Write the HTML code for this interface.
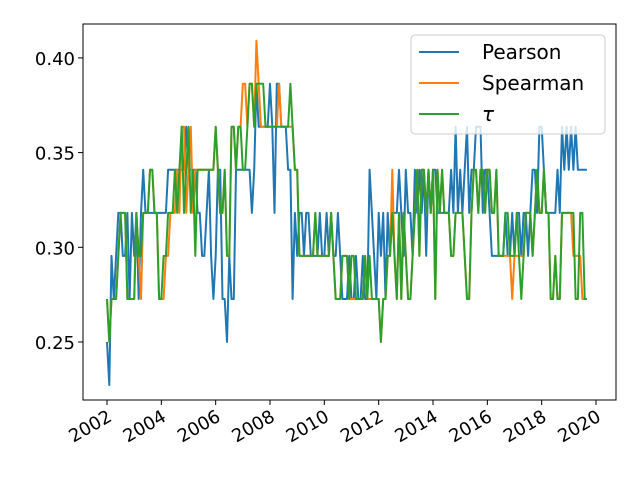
<!DOCTYPE html>
<html><head><meta charset="utf-8"><style>body{margin:0;background:#fff}svg{display:block;font-family:"DejaVu Sans","Liberation Sans",sans-serif}</style></head>
<body>
<svg id="c" width="640" height="480"></svg>
<script>
const startYear = 2002;
const pearson = [11,10,13,12,13,14,14,13,13,14,12,14, 13,14,12,14,15,14,14,14,14,14,14,14, 14,14,14,15,15,15,15,15,15,15,15,16, 15,15,15,15,14,14,13,13,14,15,13,12, 13,15,15,12,12,11,13,12,12,15,15,15, 15,15,15,15,14,15,17,16,16,16,16,16, 17,16,14,17,17,16,16,16,15,15,12,14, 13,14,14,13,14,14,13,13,13,13,14,13, 13,14,13,14,13,13,14,13,12,12,12,13, 12,12,13,12,12,13,12,12,15,14,13,12, 14,13,14,12,14,13,14,14,14,15,14,13, 15,14,14,13,15,14,15,14,15,13,15,14, 15,15,14,14,14,14,14,14,15,14,16,14, 15,14,15,16,14,15,15,16,16,16,14,15, 15,14,13,13,13,13,13,13,14,13,13,14, 13,14,14,13,14,14,13,14,15,15,14,16, 16,15,14,14,14,14,14,15,14,16,15,16, 15,16,15,16,15,15,15,15,15];
const spearman = [12,11,12,12,12,13,14,14,14,12,12,12, 12,14,13,12,14,14,14,15,15,14,14,12, 12,12,13,13,14,14,14,15,14,16,16,14, 15,16,14,15,15,15,15,15,15,15,15,15, 16,15,14,14,15,13,13,16,16,15,16,16, 17,17,16,17,17,16,18,17,16,16,16,16, 16,16,16,16,17,16,16,16,16,16,16,15, 15,13,13,13,13,13,13,13,14,13,13,13, 13,13,13,14,13,12,12,12,13,13,13,12, 12,12,12,12,12,12,13,12,12,12,12,12, 12,11,12,12,13,13,15,13,12,14,12,14, 13,12,12,13,14,15,13,15,15,14,15,14, 15,12,15,14,15,14,14,14,13,13,14,14, 14,14,13,12,12,14,15,15,14,15,15,14, 15,15,14,14,15,13,13,13,13,13,13,12, 13,13,13,13,13,14,14,14,13,14,15,14, 14,15,14,14,12,12,13,12,12,14,14,14, 14,14,13,13,13,13,12,12,12];
const tau = [12,11,12,12,12,13,14,14,14,12,12,12, 12,14,13,13,14,14,14,15,15,14,14,12, 12,13,13,14,14,14,15,14,15,16,14,15, 16,14,15,13,15,15,15,15,15,15,15,15, 16,15,14,14,15,13,13,16,16,15,16,16, 15,15,16,17,17,16,17,17,17,17,16,16, 16,16,16,16,16,16,16,16,16,17,16,15, 15,13,13,13,13,13,13,13,14,13,13,13, 13,13,13,14,13,12,12,12,13,13,13,12, 13,13,12,12,12,12,13,12,13,12,12,12, 12,11,12,12,13,13,14,13,12,14,12,14, 13,12,12,13,14,15,13,15,15,14,15,14, 15,12,15,14,15,14,14,14,13,13,14,14, 14,14,13,12,12,14,15,15,14,15,15,14, 15,15,14,14,15,13,13,13,14,14,13,13, 13,14,13,12,13,14,14,14,13,14,15,14, 14,15,14,14,12,12,13,12,12,14,14,14, 14,14,14,12,12,14,14,12,12];
const yTicks = [0.25,0.30,0.35,0.40];
const yTickLabels = ["0.25","0.30","0.35","0.40"];
const xTicks = [2002,2004,2006,2008,2010,2012,2014,2016,2018,2020];

const NS="http://www.w3.org/2000/svg";
const svg=document.getElementById('c');
const L=83,R=616,T=24,B=400;
const xs=y=>107+(y-2002)*(489/18);
const ys=v=>342-(v-0.25)*(94.7/0.05);
function mk(t,a){const e=document.createElementNS(NS,t);for(const k in a)e.setAttribute(k,a[k]);svg.appendChild(e);return e;}
const series=[["pearson",pearson,"#1f77b4"],["spearman",spearman,"#ff7f0e"],["tau",tau,"#2ca02c"]];
series.forEach(([n,arr,col])=>{
  const pts=arr.map((k,i)=>xs(startYear+i/12).toFixed(1)+","+ys(k/44).toFixed(1)).join(" ");
  const p=mk("polyline",{points:pts,fill:"none",stroke:col,"stroke-width":2,"stroke-linejoin":"round"});
  
  
});
const fr=mk("rect",{x:L,y:T,width:R-L,height:B-T,fill:"none",stroke:"#000","stroke-width":1});


yTicks.forEach((v,i)=>{
  const y=ys(v);
  const tk=mk("line",{x1:L-5,x2:L,y1:y,y2:y,stroke:"#000"});
  
  
  const t=mk("text",{x:L-8,y:y+7,"text-anchor":"end","font-size":18});
  t.textContent=yTickLabels[i];
  
  
});
xTicks.forEach(yr=>{
  const x=xs(yr);
  const tk=mk("line",{x1:x,x2:x,y1:B,y2:B+5,stroke:"#000"});
  
  
  const ax=x+6, ay=B+20;
  const t=mk("text",{x:ax,y:ay,"text-anchor":"end","font-size":18,transform:`rotate(-30 ${ax} ${ay})`});
  t.textContent=String(yr);
  
  
});
const lg=mk("rect",{x:411,y:35,width:194,height:99,rx:4,fill:"rgba(255,255,255,0.8)",stroke:"#ccc"});


[["Pearson","#1f77b4",52],["Spearman","#ff7f0e",83],["τ","#2ca02c",114]].forEach(([s,c,y])=>{
  const l=mk("line",{x1:419,x2:459,y1:y,y2:y,stroke:c,"stroke-width":2});
  
  
  const t=mk("text",{x:482,y:y+7,"font-size":20,"font-style":s==="τ"?"italic":"normal"});
  t.textContent=s;
  
  
});
</script>
</body></html>
